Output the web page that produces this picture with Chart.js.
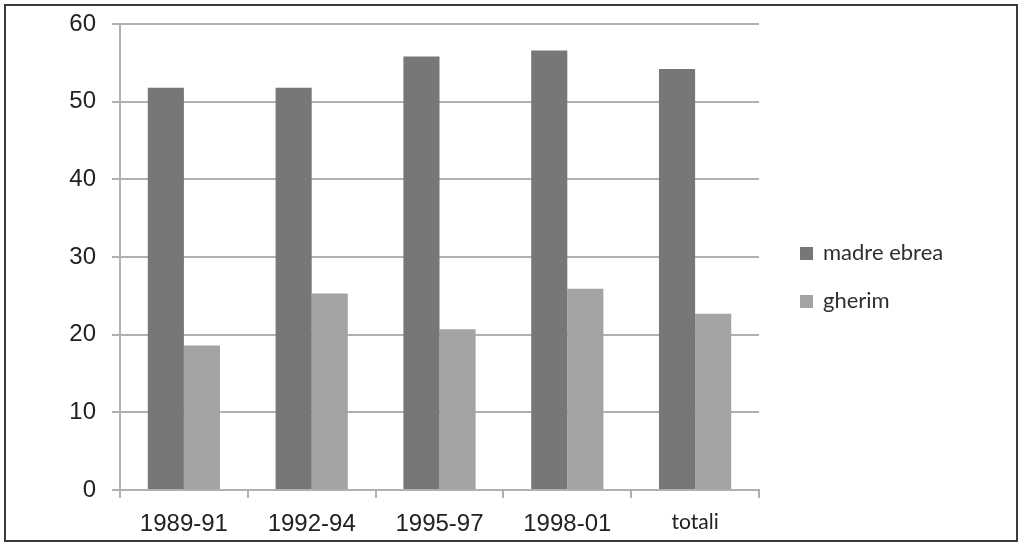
<!DOCTYPE html>
<html>
<head>
<meta charset="utf-8">
<script src="https://cdn.jsdelivr.net/npm/chart.js@4/dist/chart.umd.min.js"></script>
<style>
  body { margin: 0; background: #fff; }
  #wrap { width: 1024px; height: 550px; }
</style>
</head>
<body>
<div id="wrap"><canvas id="chartEbrei" width="1024" height="550"></canvas></div>
<script>
//データ
const categories = ['1989-91', '1992-94', '1995-97', '1998-01', 'totali'];
const madreEbrea = [51.8, 51.8, 55.8, 56.6, 54.2];
const gherim = [18.6, 25.3, 20.7, 25.9, 22.7];
const seriesNames = ['madre ebrea', 'gherim'];
const yTicks = [0, 10, 20, 30, 40, 50, 60];

const gridColor = '#b0b0b0';

//外枠
const framePlugin = {
    id: 'frame',
    afterDraw(chart) {
        const c = chart.ctx;
        c.save();
        c.strokeStyle = '#3a3a3a';
        c.lineWidth = 2;
        c.strokeRect(5, 5, 1012, 536);
        c.restore();
    }
};

//凡例（右側）
const legendPlugin = {
    id: 'sideLegend',
    afterDraw(chart) {
        const c = chart.ctx;
        c.save();
        c.font = '22px Lato';
        c.textBaseline = 'middle';
        chart.data.datasets.forEach((ds, i) => {
            const y = 253 + i * 48;
            c.fillStyle = ds.backgroundColor;
            c.fillRect(800, y - 6, 13, 13);
            c.fillStyle = '#2e2e2e';
            c.fillText(ds.label, 823, y);
        });
        c.restore();
    }
};

window.addEventListener('DOMContentLoaded', () => {
    newChart('chartEbrei');
});

function newChart(ctxId) {
    const ctx = document.getElementById(ctxId).getContext('2d');
    new Chart(ctx, {
        type: 'bar',
        data: {
            labels: categories,
            datasets: [
                { label: seriesNames[0], data: madreEbrea, backgroundColor: '#777777' },
                { label: seriesNames[1], data: gherim, backgroundColor: '#a3a3a3' }
            ]
        },
        options: {
            responsive: false,
            animation: false,
            layout: { padding: { top: 24, right: 265, left: 0, bottom: 0 } },
            datasets: {
                bar: { categoryPercentage: 0.565, barPercentage: 1.0 }
            },
            scales: {
                x: {
                    afterFit: (scale) => { scale.height = 60; },
                    grid: { drawOnChartArea: false, tickLength: 8, color: gridColor, lineWidth: 2 },
                    border: { color: gridColor, width: 2 },
                    ticks: {
                        color: '#222',
                        padding: 12,
                        font: (c) => c.index === 4
                            ? { family: 'Lato', size: 21 }
                            : { family: 'Liberation Sans', size: 24 }
                    }
                },
                y: {
                    min: 0,
                    max: 60,
                    afterFit: (scale) => {
                        scale.width = 120;
                        scale.paddingTop = 0; // ラベルのはみ出し分を無視
                        scale.paddingBottom = 0;
                    },
                    afterBuildTicks: (scale) => { scale.ticks = yTicks.map(v => ({ value: v })); },
                    grid: { tickLength: 8, color: gridColor, lineWidth: 2 },
                    border: { color: gridColor, width: 2 },
                    ticks: {
                        color: '#222',
                        padding: 16,
                        font: { family: 'Liberation Sans', size: 24 }
                    }
                }
            },
            plugins: {
                legend: { display: false },
                tooltip: { enabled: false }
            }
        },
        plugins: [framePlugin, legendPlugin]
    });
}
</script>
</body>
</html>
